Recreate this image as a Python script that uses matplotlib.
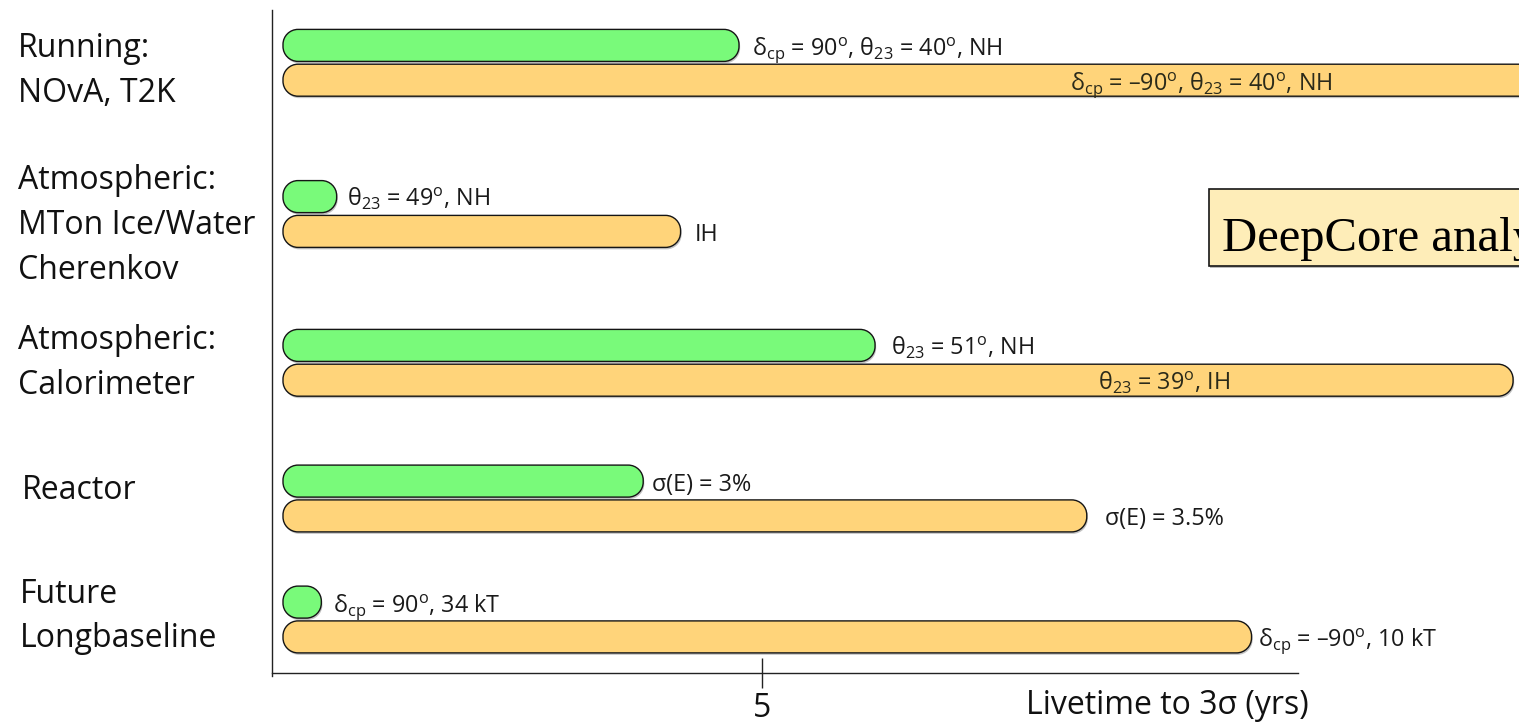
import matplotlib
matplotlib.use("Agg")
import matplotlib.pyplot as plt
from matplotlib.patches import PathPatch, Rectangle
from matplotlib.path import Path
import matplotlib.patheffects as pe

plt.rcParams['font.family'] = ['Open Sans', 'DejaVu Sans']
plt.rcParams['mathtext.fontset'] = 'custom'
plt.rcParams['mathtext.rm'] = 'Open Sans'
plt.rcParams['mathtext.it'] = 'Open Sans:italic'
plt.rcParams['mathtext.bf'] = 'Open Sans:bold'

# ---- data: livetime (years) to reach 3 sigma mass-hierarchy sensitivity ----
groups = ["Running:\nNOvA, T2K",
          "Atmospheric:\nMTon Ice/Water\nCherenkov",
          "Atmospheric:\nCalorimeter",
          "Reactor",
          "Future\nLongbaseline"]
best_case_years = [4.76, 0.56, 6.18, 3.76, 0.40]
worst_case_years = [13.6, 4.15, 12.84, 8.39, 10.11]
best_case_labels = [
    r"δ$_{\mathrm{cp}}$ = 90$^{\mathrm{o}}$, θ$_{\mathrm{23}}$ = 40$^{\mathrm{o}}$, NH",
    r"θ$_{\mathrm{23}}$ = 49$^{\mathrm{o}}$, NH",
    r"θ$_{\mathrm{23}}$ = 51$^{\mathrm{o}}$, NH",
    r"σ(E) = 3%",
    r"δ$_{\mathrm{cp}}$ = 90$^{\mathrm{o}}$, 34 kT",
]
worst_case_labels = [
    r"δ$_{\mathrm{cp}}$ = –90$^{\mathrm{o}}$, θ$_{\mathrm{23}}$ = 40$^{\mathrm{o}}$, NH",
    r"IH",
    r"θ$_{\mathrm{23}}$ = 39$^{\mathrm{o}}$, IH",
    r"σ(E) = 3.5%",
    r"δ$_{\mathrm{cp}}$ = –90$^{\mathrm{o}}$, 10 kT",
]
xtick_values = [5]
xtick_labels = ["5"]
xlabel = "Livetime to 3σ (yrs)"
note = "DeepCore analysis"

# ---- layout (figure pixels, y measured from the top) ----
W, H = 1519, 725
PX_PER_YEAR = 95.8
ZERO_PX = 283
AX_LEFT_PX, AX_TOP_PX, AX_BOTTOM_PX = 272, 10, 676
row_centers = [62.8, 214.0, 362.8, 498.5, 619.5]
label_baselines = [[57, 102], [189, 234, 279], [349, 394], [499], [603, 647]]
label_left_px = [18, 18, 18, 22, 20]
BAR_H = 32
BAR_OFF = 17.4
ROUND_PX = 15
TEXT_DROP_PX = 9.5
best_label_gap_px = [13, 10, 16, 9, 12]
# worst-case labels: inside the bar at x in years, or a pixel gap after the bar end
worst_label_inside = [8.22, None, 8.51, None, None]
worst_label_gap_px = [0, 14, 0, 18, 6]

LABEL_FS = 23
NOTE_FS = 16.8
GREEN = "#79FA7A"
ORANGE = "#FFD47A"
EDGE = "#151515"

fig = plt.figure(figsize=(W / 100, H / 100), dpi=100)
ax = fig.add_axes([AX_LEFT_PX / W, (H - AX_BOTTOM_PX) / H,
                   1 - AX_LEFT_PX / W, (AX_BOTTOM_PX - AX_TOP_PX) / H])
xmin = (AX_LEFT_PX - ZERO_PX) / PX_PER_YEAR
xmax = (W - ZERO_PX) / PX_PER_YEAR
ax.set_xlim(xmin, xmax)
ax.set_ylim(AX_BOTTOM_PX, AX_TOP_PX)

shadow = [pe.SimplePatchShadow(offset=(0.8, -1.4), shadow_rgbFace="#7a7a7a", alpha=0.45),
          pe.Normal()]
K = 0.5523  # cubic Bezier circle constant


def rounded_bar_path(value, y_top, height):
    """Rounded rectangle from 0 to value with circular corners (x in years, y in rows)."""
    rx = ROUND_PX / PX_PER_YEAR
    ry = ROUND_PX
    x0, x1 = 0.0, value
    y0, y1 = y_top, y_top + height
    verts = [
        (x0 + rx, y0), (x1 - rx, y0),
        (x1 - rx + K * rx, y0), (x1, y0 + ry - K * ry), (x1, y0 + ry),
        (x1, y1 - ry),
        (x1, y1 - ry + K * ry), (x1 - rx + K * rx, y1), (x1 - rx, y1),
        (x0 + rx, y1),
        (x0 + rx - K * rx, y1), (x0, y1 - ry + K * ry), (x0, y1 - ry),
        (x0, y0 + ry),
        (x0, y0 + ry - K * ry), (x0 + rx - K * rx, y0), (x0 + rx, y0),
        (x0 + rx, y0),
    ]
    codes = [Path.MOVETO, Path.LINETO,
             Path.CURVE4, Path.CURVE4, Path.CURVE4,
             Path.LINETO,
             Path.CURVE4, Path.CURVE4, Path.CURVE4,
             Path.LINETO,
             Path.CURVE4, Path.CURVE4, Path.CURVE4,
             Path.LINETO,
             Path.CURVE4, Path.CURVE4, Path.CURVE4,
             Path.CLOSEPOLY]
    return Path(verts, codes)


def draw_bar(value, yc, color):
    p = PathPatch(rounded_bar_path(value, yc - BAR_H / 2, BAR_H), facecolor=color,
                  edgecolor=EDGE, linewidth=1.0, path_effects=shadow, zorder=3)
    ax.add_patch(p)


for i, yc in enumerate(row_centers):
    yg = yc - BAR_OFF
    yo = yc + BAR_OFF
    draw_bar(best_case_years[i], yg, GREEN)
    draw_bar(worst_case_years[i], yo, ORANGE)

    ax.annotate(best_case_labels[i], xy=(best_case_years[i], yg),
                xytext=(best_label_gap_px[i], -TEXT_DROP_PX), textcoords="offset pixels",
                ha="left", va="baseline", fontsize=NOTE_FS, color="#1a1a1a", zorder=5)
    if worst_label_inside[i] is not None:
        ax.text(worst_label_inside[i], yo + TEXT_DROP_PX, worst_case_labels[i],
                ha="left", va="baseline", fontsize=NOTE_FS, color="#2a2a1a", zorder=5)
    else:
        ax.annotate(worst_case_labels[i], xy=(worst_case_years[i], yo),
                    xytext=(worst_label_gap_px[i], -TEXT_DROP_PX), textcoords="offset pixels",
                    ha="left", va="baseline", fontsize=NOTE_FS, color="#1a1a1a", zorder=5)

    for line, base in zip(groups[i].split("\n"), label_baselines[i]):
        fig.text(label_left_px[i] / W, 1 - base / H, line, ha="left", va="baseline",
                 fontsize=LABEL_FS, color="#111111")

# DeepCore note box, running off the right edge
box_x = (1209 - ZERO_PX) / PX_PER_YEAR
box = Rectangle((box_x, 189), 6, 77, facecolor="#FEEDB8", edgecolor=EDGE,
                linewidth=1.2, zorder=4,
                path_effects=[pe.SimplePatchShadow(offset=(1, -1.5), shadow_rgbFace="#777777",
                                                   alpha=0.5), pe.Normal()])
ax.add_patch(box)
ax.text((1222 - ZERO_PX) / PX_PER_YEAR, 251, note, ha="left", va="baseline",
        fontsize=35, family="Liberation Serif", color="black", zorder=5, clip_on=True)

# axes lines
for s in ("top", "right"):
    ax.spines[s].set_visible(False)
ax.spines["left"].set_linewidth(1.0)
ax.spines["left"].set_color("#222222")
ax.spines["bottom"].set_position(("data", 673))
ax.spines["bottom"].set_bounds(xmin, (1298 - ZERO_PX) / PX_PER_YEAR)
ax.spines["bottom"].set_linewidth(1.0)
ax.spines["bottom"].set_color("#222222")
ax.set_yticks([])
ax.set_xticks(xtick_values)
ax.set_xticklabels(xtick_labels)
ax.tick_params(axis="x", direction="inout", length=21.5, width=1.0, color="#222222",
               labelsize=LABEL_FS, pad=3, labelcolor="#111111")
ax.patch.set_alpha(0)

fig.text(1167 / W, 1 - 705 / H, xlabel, ha="center", va="center",
         fontsize=LABEL_FS, color="#111111")

fig.savefig("out.png", dpi=100)
